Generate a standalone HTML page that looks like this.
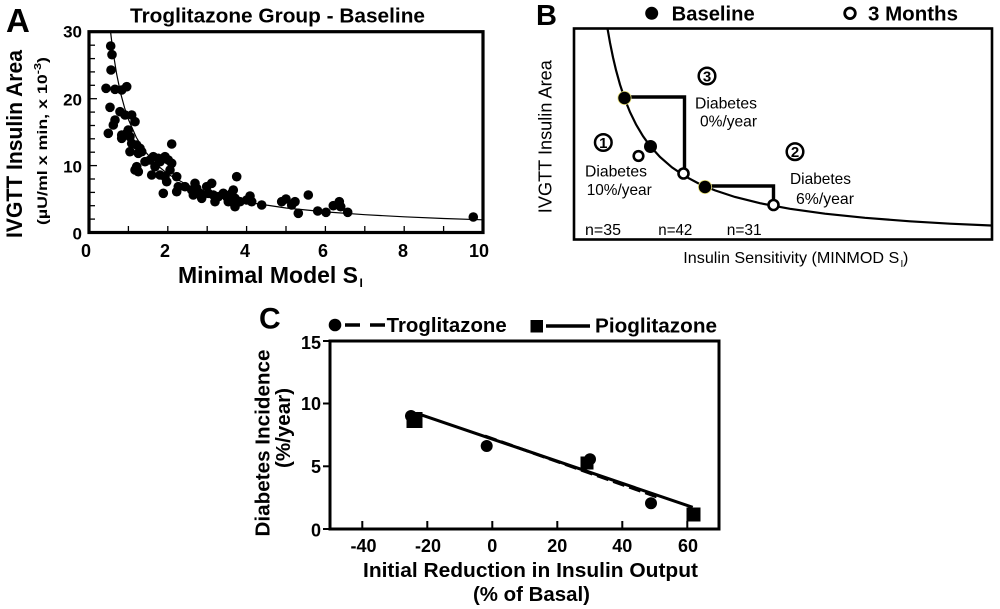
<!DOCTYPE html>
<html><head><meta charset="utf-8"><style>
html,body{margin:0;padding:0;background:#fff;}
svg{display:block;}
text{font-family:"Liberation Sans",Arial,sans-serif;fill:#000;}
.b{font-weight:bold;}
</style></head><body>
<svg width="1000" height="609" viewBox="0 0 1000 609" xmlns="http://www.w3.org/2000/svg">
<rect width="1000" height="609" fill="#fff"/>

<!-- ================= PANEL A ================= -->
<text x="6" y="32" class="b" font-size="33">A</text>
<text x="277.5" y="22.5" class="b" font-size="20" text-anchor="middle" textLength="295" lengthAdjust="spacingAndGlyphs">Troglitazone Group - Baseline</text>

<text transform="translate(22,144) rotate(-90)" class="b" font-size="22" text-anchor="middle" textLength="188" lengthAdjust="spacingAndGlyphs">IVGTT Insulin Area</text>
<text transform="translate(47,141) rotate(-90)" class="b" font-size="14" text-anchor="middle" textLength="168" lengthAdjust="spacingAndGlyphs">(µU/ml x min, x 10<tspan font-size="10" dy="-6">-3</tspan><tspan dy="6">)</tspan></text>

<g class="b" font-size="17" text-anchor="end">
<text x="82" y="37.5">30</text>
<text x="82" y="105.5">20</text>
<text x="82" y="172.5">10</text>
<text x="82" y="239.5">0</text>
</g>
<g class="b" font-size="18" text-anchor="middle">
<text x="86" y="257">0</text>
<text x="165" y="257">2</text>
<text x="245" y="257">4</text>
<text x="323" y="257">6</text>
<text x="403" y="257">8</text>
<text x="479" y="257">10</text>
</g>
<text x="178" y="283" class="b" font-size="23" textLength="180" lengthAdjust="spacingAndGlyphs">Minimal Model S</text>
<text x="359.5" y="287" class="b" font-size="12">I</text>

<g stroke="#000" stroke-width="1.3">
<line x1="90" y1="219.1" x2="95" y2="219.1"/>
<line x1="90" y1="205.7" x2="95" y2="205.7"/>
<line x1="90" y1="192.4" x2="95" y2="192.4"/>
<line x1="90" y1="179.0" x2="95" y2="179.0"/>
<line x1="90" y1="165.6" x2="97" y2="165.6"/>
<line x1="90" y1="152.2" x2="95" y2="152.2"/>
<line x1="90" y1="138.8" x2="95" y2="138.8"/>
<line x1="90" y1="125.5" x2="95" y2="125.5"/>
<line x1="90" y1="112.1" x2="95" y2="112.1"/>
<line x1="90" y1="98.7" x2="97" y2="98.7"/>
<line x1="90" y1="85.3" x2="95" y2="85.3"/>
<line x1="90" y1="71.9" x2="95" y2="71.9"/>
<line x1="90" y1="58.6" x2="95" y2="58.6"/>
<line x1="90" y1="45.2" x2="95" y2="45.2"/>
<line x1="128.4" y1="231" x2="128.4" y2="226"/>
<line x1="167.8" y1="231" x2="167.8" y2="226"/>
<line x1="207.2" y1="231" x2="207.2" y2="226"/>
<line x1="246.6" y1="231" x2="246.6" y2="226"/>
<line x1="286" y1="231" x2="286" y2="226"/>
<line x1="325.4" y1="231" x2="325.4" y2="226"/>
<line x1="364.8" y1="231" x2="364.8" y2="226"/>
<line x1="404.2" y1="231" x2="404.2" y2="226"/>
<line x1="443.6" y1="231" x2="443.6" y2="226"/>
</g>

<polyline fill="none" stroke="#000" stroke-width="1.2" points="110.5,31.7 110.7,33 112.6,48.8 116.6,73.8 120.5,92.8 124.5,107.5 128.4,119.4 136.3,137.4 144.2,150.4 156,164.2 167.8,174 187.5,185.1 207.2,192.7 226.9,198.1 246.6,202.2 286,208 325.4,211.9 364.8,214.7 404.2,216.8 443.6,218.5 483,219.8"/>

<g fill="#000">
<circle cx="110.7" cy="46" r="4.8"/><circle cx="112" cy="54.7" r="4.8"/><circle cx="111" cy="70" r="4.8"/>
<circle cx="106" cy="88.3" r="4.8"/><circle cx="115" cy="89.3" r="4.8"/><circle cx="121.7" cy="90" r="4.8"/>
<circle cx="126.7" cy="86.7" r="4.8"/><circle cx="110" cy="107.3" r="4.8"/><circle cx="108.3" cy="133.3" r="4.8"/>
<circle cx="115" cy="120" r="4.8"/><circle cx="113.3" cy="125" r="4.8"/><circle cx="120" cy="111.7" r="4.8"/>
<circle cx="125" cy="115" r="4.8"/><circle cx="131.7" cy="115" r="4.8"/><circle cx="135" cy="121.7" r="4.8"/>
<circle cx="121.7" cy="135" r="4.8"/><circle cx="121.7" cy="138.3" r="4.8"/><circle cx="126.7" cy="133.3" r="4.8"/>
<circle cx="130" cy="136.7" r="4.8"/><circle cx="128.3" cy="130" r="4.8"/><circle cx="131.7" cy="143.3" r="4.8"/>
<circle cx="136.7" cy="145" r="4.8"/><circle cx="140" cy="148.3" r="4.8"/><circle cx="130" cy="151.7" r="4.8"/>
<circle cx="138.3" cy="153.3" r="4.8"/><circle cx="141.7" cy="151.7" r="4.8"/><circle cx="171.7" cy="144" r="4.8"/>
<circle cx="136.7" cy="166.7" r="4.8"/><circle cx="138.3" cy="171.7" r="4.8"/><circle cx="135" cy="170" r="4.8"/>
<circle cx="145" cy="161.7" r="4.8"/><circle cx="150" cy="160" r="4.8"/><circle cx="153.3" cy="156.7" r="4.8"/>
<circle cx="158.3" cy="158.3" r="4.8"/><circle cx="160" cy="161.7" r="4.8"/><circle cx="165" cy="156.7" r="4.8"/>
<circle cx="168.3" cy="160" r="4.8"/><circle cx="171.7" cy="163.3" r="4.8"/><circle cx="155" cy="166.7" r="4.8"/>
<circle cx="151.7" cy="175" r="4.8"/><circle cx="160" cy="175" r="4.8"/><circle cx="165" cy="176.7" r="4.8"/>
<circle cx="166.7" cy="181.7" r="4.8"/><circle cx="170" cy="170" r="4.8"/><circle cx="163.3" cy="193.3" r="4.8"/>
<circle cx="176.7" cy="176.7" r="4.8"/><circle cx="178.3" cy="186.7" r="4.8"/><circle cx="176.7" cy="191.7" r="4.8"/>
<circle cx="185" cy="186.7" r="4.8"/><circle cx="191.7" cy="190" r="4.8"/><circle cx="195" cy="183.3" r="4.8"/>
<circle cx="196.7" cy="188.3" r="4.8"/><circle cx="193.3" cy="195" r="4.8"/><circle cx="200" cy="193.3" r="4.8"/>
<circle cx="201.7" cy="198.3" r="4.8"/><circle cx="206.7" cy="186.7" r="4.8"/><circle cx="211.7" cy="183.3" r="4.8"/>
<circle cx="208.3" cy="193.3" r="4.8"/><circle cx="213.3" cy="195" r="4.8"/><circle cx="215" cy="201.7" r="4.8"/>
<circle cx="218.3" cy="196.7" r="4.8"/><circle cx="223.3" cy="193.3" r="4.8"/><circle cx="226.7" cy="196.7" r="4.8"/>
<circle cx="228.3" cy="201.7" r="4.8"/><circle cx="231.7" cy="193.3" r="4.8"/><circle cx="233.3" cy="190" r="4.8"/>
<circle cx="235" cy="198.3" r="4.8"/><circle cx="236.7" cy="176.7" r="4.8"/><circle cx="235" cy="206.7" r="4.8"/>
<circle cx="240" cy="201.7" r="4.8"/><circle cx="246.7" cy="200" r="4.8"/><circle cx="250" cy="196" r="4.8"/>
<circle cx="251.7" cy="201.7" r="4.8"/><circle cx="261.7" cy="205" r="4.8"/><circle cx="281.7" cy="201.7" r="4.8"/>
<circle cx="286" cy="199" r="4.8"/><circle cx="291.7" cy="205" r="4.8"/><circle cx="295" cy="201.7" r="4.8"/>
<circle cx="298.3" cy="213.3" r="4.8"/><circle cx="308.3" cy="195" r="4.8"/><circle cx="317.7" cy="211" r="4.8"/>
<circle cx="326" cy="212.3" r="4.8"/><circle cx="333.3" cy="205.7" r="4.8"/><circle cx="339.3" cy="201.7" r="4.8"/>
<circle cx="340.7" cy="206.7" r="4.8"/><circle cx="347.7" cy="212.3" r="4.8"/><circle cx="473.3" cy="217" r="4.8"/>
</g>

<rect x="89" y="31.7" width="394" height="200.8" fill="none" stroke="#000" stroke-width="3.2"/>

<!-- ================= PANEL B ================= -->
<text x="536" y="25" class="b" font-size="29">B</text>
<circle cx="651.7" cy="13.3" r="6.5" fill="#000"/>
<text x="671.7" y="20.5" class="b" font-size="20" textLength="83" lengthAdjust="spacingAndGlyphs">Baseline</text>
<circle cx="850" cy="13.3" r="5.3" fill="#fff" stroke="#000" stroke-width="2.8"/>
<text x="868" y="20.5" class="b" font-size="20" textLength="90" lengthAdjust="spacingAndGlyphs">3 Months</text>

<text transform="translate(551.5,136.7) rotate(-90)" font-size="18" text-anchor="middle" textLength="153" lengthAdjust="spacingAndGlyphs">IVGTT Insulin Area</text>
<text x="683.3" y="263" font-size="16" textLength="216" lengthAdjust="spacingAndGlyphs">Insulin Sensitivity (MINMOD S</text>
<text x="900.5" y="267" font-size="10">I</text>
<text x="903" y="263" font-size="16">)</text>

<rect x="574" y="28.5" width="418" height="211" fill="none" stroke="#000" stroke-width="2.6"/>

<polyline fill="none" stroke="#000" stroke-width="2.2" points="607.5,28.5 610,42.7 613,57.4 616,70.1 620,84.6 625,99.6 630,112.1 636,124.4 643,136.2 650,145.9 660,157 672,167.4 685,176.2 700,184.2 715,190.4 735,197 760,203.2 790,208.8 825,213.7 865,217.8 910,221.3 950,223.7 991,225.5"/>

<polyline fill="none" stroke="#000" stroke-width="3.4" points="624.5,97 684.5,97 684.5,169"/>
<polyline fill="none" stroke="#000" stroke-width="3.4" points="705,186 773.5,186 773.5,200"/>

<circle cx="624.5" cy="98" r="7" fill="#e9e27a"/>
<circle cx="624.5" cy="98" r="6.2" fill="#000"/>
<circle cx="650.5" cy="146.5" r="6.5" fill="#000"/>
<circle cx="705" cy="187" r="7" fill="#e9e27a"/>
<circle cx="705" cy="187" r="6.2" fill="#000"/>
<circle cx="683.5" cy="173.5" r="5" fill="#fff" stroke="#000" stroke-width="2.6"/>
<circle cx="773.5" cy="205" r="5" fill="#fff" stroke="#000" stroke-width="2.6"/>
<circle cx="638.5" cy="156" r="4.8" fill="#fff" stroke="#000" stroke-width="2.6"/>

<circle cx="707" cy="76" r="8.3" fill="#fff" stroke="#000" stroke-width="2.5"/>
<text x="707" y="81.5" class="b" font-size="15" text-anchor="middle">3</text>
<circle cx="603.3" cy="142.5" r="8.3" fill="#fff" stroke="#000" stroke-width="2.5"/>
<text x="603.3" y="148" class="b" font-size="15" text-anchor="middle">1</text>
<circle cx="795" cy="151.7" r="8.3" fill="#fff" stroke="#000" stroke-width="2.5"/>
<text x="795" y="157.2" class="b" font-size="15" text-anchor="middle">2</text>

<g font-size="16">
<text x="695" y="108.3" textLength="62" lengthAdjust="spacingAndGlyphs">Diabetes</text>
<text x="700" y="126.5" textLength="57" lengthAdjust="spacingAndGlyphs">0%/year</text>
<text x="585" y="176.7" textLength="62" lengthAdjust="spacingAndGlyphs">Diabetes</text>
<text x="586.7" y="195" textLength="65" lengthAdjust="spacingAndGlyphs">10%/year</text>
<text x="790" y="184" textLength="61" lengthAdjust="spacingAndGlyphs">Diabetes</text>
<text x="796" y="204" textLength="58" lengthAdjust="spacingAndGlyphs">6%/year</text>
<text x="585" y="235" textLength="36" lengthAdjust="spacingAndGlyphs">n=35</text>
<text x="658.3" y="235" textLength="34" lengthAdjust="spacingAndGlyphs">n=42</text>
<text x="726.7" y="235" textLength="35" lengthAdjust="spacingAndGlyphs">n=31</text>
</g>

<!-- ================= PANEL C ================= -->
<text x="259" y="328.5" class="b" font-size="30">C</text>
<circle cx="335" cy="325" r="6.3" fill="#000"/>
<line x1="345" y1="325" x2="360" y2="325" stroke="#000" stroke-width="3.5"/>
<line x1="370" y1="325" x2="385" y2="325" stroke="#000" stroke-width="3.5"/>
<text x="386.7" y="332" class="b" font-size="20" textLength="120" lengthAdjust="spacingAndGlyphs">Troglitazone</text>
<rect x="530.5" y="320" width="12.5" height="12.5" fill="#000"/>
<line x1="546" y1="326" x2="590" y2="326" stroke="#000" stroke-width="3.5"/>
<text x="595" y="332.5" class="b" font-size="20" textLength="122" lengthAdjust="spacingAndGlyphs">Pioglitazone</text>

<text transform="translate(269.5,443) rotate(-90)" class="b" font-size="20" text-anchor="middle" textLength="187" lengthAdjust="spacingAndGlyphs">Diabetes Incidence</text>
<text transform="translate(290,428) rotate(-90)" class="b" font-size="20" text-anchor="middle" textLength="80" lengthAdjust="spacingAndGlyphs">(%/year)</text>

<g class="b" font-size="18" text-anchor="end">
<text x="321" y="349">15</text>
<text x="321" y="410">10</text>
<text x="321" y="473">5</text>
<text x="321" y="536.5">0</text>
</g>
<g class="b" font-size="18" text-anchor="middle">
<text x="363.5" y="552">-40</text>
<text x="428" y="552">-20</text>
<text x="492.3" y="552">0</text>
<text x="557.3" y="552">20</text>
<text x="622.3" y="552">40</text>
<text x="688" y="552">60</text>
</g>
<text x="530.5" y="577" class="b" font-size="20" text-anchor="middle" textLength="335" lengthAdjust="spacingAndGlyphs">Initial Reduction in Insulin Output</text>
<text x="531.5" y="601" class="b" font-size="20" text-anchor="middle" textLength="117" lengthAdjust="spacingAndGlyphs">(% of Basal)</text>

<g stroke="#000" stroke-width="2">
<line x1="362.3" y1="528" x2="362.3" y2="521"/>
<line x1="427.3" y1="528" x2="427.3" y2="521"/>
<line x1="492.3" y1="528" x2="492.3" y2="521"/>
<line x1="557.3" y1="528" x2="557.3" y2="521"/>
<line x1="622.3" y1="528" x2="622.3" y2="521"/>
<line x1="687.3" y1="528" x2="687.3" y2="521"/>
<line x1="330" y1="466.3" x2="323" y2="466.3"/>
<line x1="330" y1="403.5" x2="323" y2="403.5"/>
<line x1="330" y1="341" x2="323" y2="341"/>
<line x1="330" y1="529" x2="323" y2="529"/>
</g>

<line x1="485" y1="436" x2="660" y2="498" stroke="#000" stroke-width="3" stroke-dasharray="12,5"/>
<line x1="416.7" y1="413.3" x2="692.7" y2="507.3" stroke="#000" stroke-width="3"/>

<circle cx="411" cy="416" r="6" fill="#000"/>
<rect x="406.5" y="412" width="16" height="16" fill="#000"/>
<circle cx="486.7" cy="446" r="6" fill="#000"/>
<rect x="580.5" y="456.5" width="13" height="13" fill="#000"/>
<circle cx="590" cy="459.3" r="6" fill="#000"/>
<circle cx="651" cy="503.3" r="6" fill="#000"/>
<rect x="686.5" y="507.5" width="14" height="14" fill="#000"/>

<rect x="330" y="341" width="389" height="188" fill="none" stroke="#000" stroke-width="3"/>
</svg>
</body></html>
